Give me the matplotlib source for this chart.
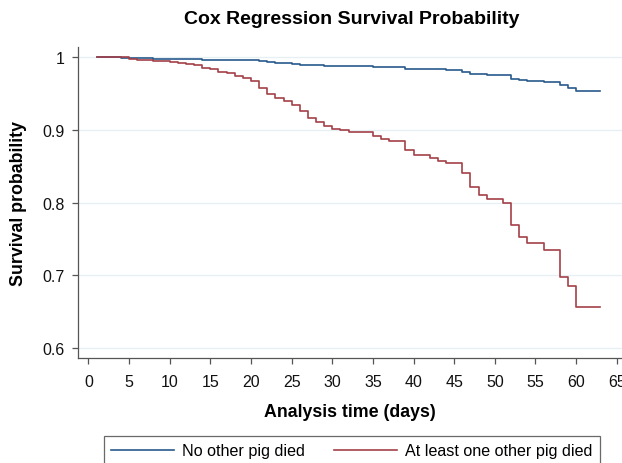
import matplotlib
matplotlib.use("Agg")
import matplotlib.pyplot as plt

# --- Data ---
t_none = [1, 4, 6, 8, 10, 12, 14, 16, 18, 20, 21, 22, 23, 24, 25, 26, 27, 29, 32, 35,
          39, 40, 44, 46, 47, 48, 49, 51, 52, 53, 54, 56, 58, 59, 60, 63]
s_none = [1.0, 0.9995, 0.999, 0.9985, 0.998, 0.9975, 0.997, 0.9967, 0.9965, 0.996,
          0.9945, 0.9936, 0.9927, 0.992, 0.9913, 0.990, 0.9895, 0.9886, 0.988, 0.9863,
          0.9845, 0.9836, 0.9831, 0.980, 0.9776, 0.9767, 0.976, 0.9753, 0.971, 0.9685,
          0.967, 0.966, 0.9616, 0.9585, 0.9543, 0.9543]

t_died = [1, 5, 6, 7, 8, 9, 10, 11, 12, 13, 14, 15, 16, 17, 18, 19, 20, 21, 22, 23, 24,
          25, 26, 27, 28, 29, 30, 31, 32, 35, 36, 37, 39, 40, 42, 43, 44, 46, 47, 48,
          49, 51, 52, 53, 54, 56, 58, 59, 60, 63]
s_died = [1.0, 0.9977, 0.997, 0.996, 0.995, 0.9945, 0.9932, 0.9922, 0.9908, 0.989,
          0.986, 0.9836, 0.980, 0.978, 0.975, 0.9717, 0.968, 0.958, 0.949, 0.944, 0.940,
          0.934, 0.9256, 0.917, 0.911, 0.906, 0.902, 0.900, 0.898, 0.892, 0.888, 0.8845,
          0.8726, 0.865, 0.8616, 0.858, 0.855, 0.841, 0.8215, 0.811, 0.8055, 0.799,
          0.769, 0.753, 0.745, 0.735, 0.698, 0.6845, 0.656, 0.656]

x_ticks = list(range(0, 70, 5))
y_ticks = [0.6, 0.7, 0.8, 0.9, 1.0]
y_labels = ["0.6", "0.7", "0.8", "0.9", "1"]
labels = ["No other pig died", "At least one other pig died"]
colors = ["#285a8c", "#a33f48"]

plt.rcParams['font.family'] = ['Liberation Sans', 'DejaVu Sans']

fig = plt.figure(figsize=(6.22, 4.64), dpi=100)
W, H = 622, 464
ax = fig.add_axes([78.3 / W, 1 - 359 / H, 1 - 78.3 / W, (359 - 48.3) / H])

ax.step(t_none, s_none, where='post', color=colors[0], lw=1.2, label=labels[0])
ax.step(t_died, s_died, where='post', color=colors[1], lw=1.2, label=labels[1])

ax.set_xlim(-1.25, 65.65)
ax.set_ylim(0.586, 1.014)

ax.set_xticks(x_ticks)
ax.set_yticks(y_ticks)
ax.set_yticklabels(y_labels)
ax.grid(axis='y', color='#e6eff1', lw=0.9)
ax.set_axisbelow(True)

for sp in ['top', 'right']:
    ax.spines[sp].set_visible(False)
for sp in ['left', 'bottom']:
    ax.spines[sp].set_color('#555555')
    ax.spines[sp].set_linewidth(0.9)

ax.tick_params(axis='both', colors='#555555', labelcolor='#111111', labelsize=11.5,
               length=4.5, width=0.9, direction='out')
ax.tick_params(axis='x', pad=7)
ax.tick_params(axis='y', pad=5)

ax.set_xlabel("Analysis time (days)", fontsize=12.8, fontweight='bold', labelpad=10)
ax.set_ylabel("Survival probability", fontsize=12.8, fontweight='bold', labelpad=11)

fig.text(352 / W, 1 - 20 / H, "Cox Regression Survival Probability", ha='center',
         va='center', fontsize=14, fontweight='bold')

leg = fig.legend(loc='upper center', bbox_to_anchor=(352 / W, 1 - 437 / H), ncol=2,
                 fontsize=11.6, handlelength=3.9, handletextpad=0.5, columnspacing=1.8,
                 frameon=True, fancybox=False, borderpad=0.45, borderaxespad=0)
leg.get_frame().set_edgecolor('#444444')
leg.get_frame().set_linewidth(0.9)

fig.savefig("out.png", dpi=100)
